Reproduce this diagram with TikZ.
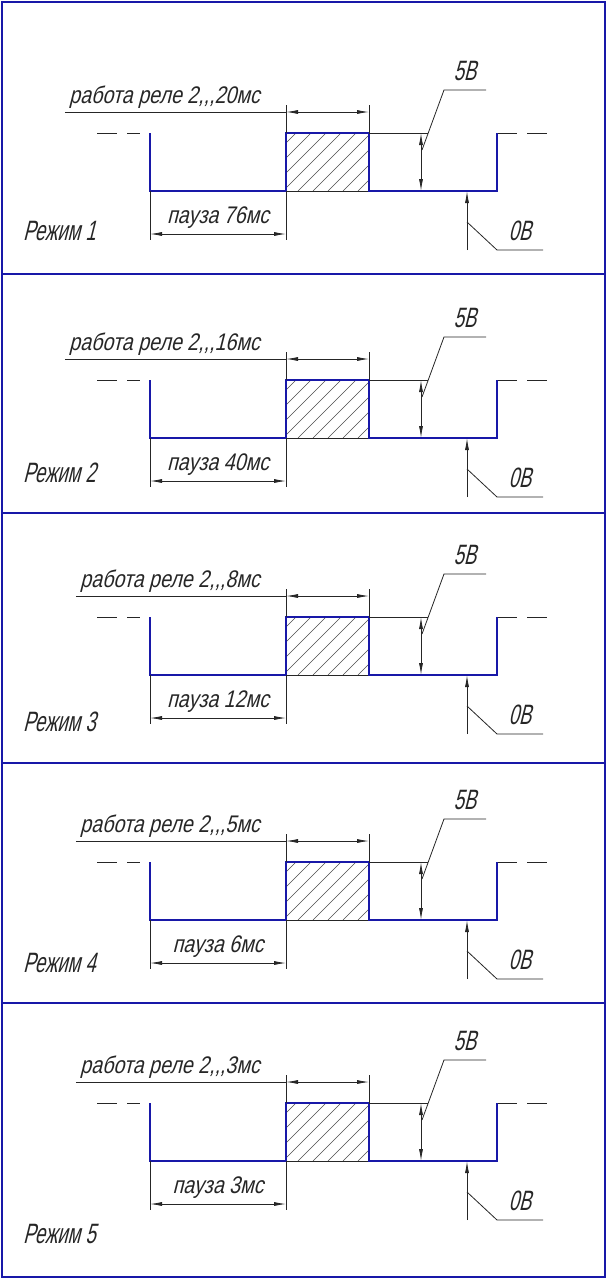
\documentclass[tikz,border=0pt]{standalone}
\usepackage{fontspec}
\usetikzlibrary{arrows.meta}
\newfontfamily\gostfont[FakeSlant=0.25,FakeStretch=0.82]{Liberation Sans}
\newfontfamily\gostnarrow[FakeSlant=0.25,FakeStretch=0.66]{Liberation Sans}
\definecolor{waveblue}{RGB}{24,24,168}

\begin{document}
\begin{tikzpicture}[x=1pt, y=-1pt,
    border/.style={waveblue, line width=2pt},
    wave/.style={waveblue, line width=2pt},
    thinline/.style={black!85, line width=0.8pt},
    hatch/.style={black!70, line width=0.5pt},
    dimline/.style={thinline, {Latex[length=12pt,width=4pt]}-{Latex[length=12pt,width=4pt]}},
    arrowline/.style={thinline, -{Latex[length=12pt,width=4pt]}},
    worklbl/.style={inner sep=0pt, black!85, font=\gostfont\fontsize{24}{26}\selectfont},
    modelbl/.style={inner sep=0pt, black!85, font=\gostnarrow\fontsize{28}{30}\selectfont}]
\useasboundingbox (0,0) rectangle (608,1280);
% draw frame
    \draw[border] (2,2) rectangle (605,1277);
    \foreach \y in {274,513,763,1003}
        \draw[border] (2,\y) -- (605,\y);
% draw panels
\foreach \i/\h/\w/\p/\m in {1/133/20/76/107, 2/380/16/40/102, 3/617/8/12/114, 4/862/5/6/110, 5/1103/3/3/140}{
    \pgfmathsetmacro\l{\h+58}
    % hatched pulse
    \begin{scope}
        \clip (286,\h) rectangle (369,\l);
        \foreach \k in {0,...,9}
            \draw[hatch] ({223+15*\k},\l) -- ++(60,-60);
    \end{scope}
    \draw[thinline] (286,\l) -- (369,\l);
    % signal
    \draw[thinline, dash pattern=on 20pt off 10pt] (97,\h) -- (140,\h);
    \draw[thinline, dash pattern=on 20pt off 10pt] (497,\h) -- (548,\h);
    \draw[wave] (150,\h) -- (150,\l) -- (286,\l) -- (286,\h) -- (369,\h)
        -- (369,\l) -- (497,\l) -- (497,\h);
    % work dimension
    \coordinate (lead\i) at (286,\h-21);
    \node[worklbl, anchor=base east] (work\i) at (260,\h-30) {работа реле 2,,,\w мс};
    \draw[thinline] (286,\h) -- (286,\h-28);
    \draw[thinline] (369,\h) -- (369,\h-28);
    \draw[dimline] (lead\i) -- (369,\h-21);
    \draw[thinline] ([xshift=-4pt]work\i.west |- lead\i) -- (lead\i);
    % pause dimension
    \draw[thinline] (150,\l) -- (150,\h+107);
    \draw[thinline] (286,\l) -- (286,\h+107);
    \draw[dimline] (150,\h+101) -- (286,\h+101);
    \node[worklbl, anchor=base] (pause\i) at (218,\h+90) {пауза \p мс};
    % 5V
    \draw[thinline] (369,\h) -- (428,\h);
    \draw[dimline] (421,\h) -- (421,\l);
    \draw[thinline] (422,\h+17) -- (444,\h-43) -- (486,\h-43);
    \node[modelbl, anchor=base] (hi\i) at (465,\h-53) {5В};
    % 0V
    \draw[arrowline] (467,\h+117) -- (467,\l);
    \draw[thinline] (467,\h+89) -- (497,\h+117) -- (543,\h+117);
    \node[modelbl, anchor=base] (lo\i) at (520,\h+107) {0В};
    % mode
    \node[modelbl, anchor=base west] (mode\i) at (23,\h+\m) {Режим \i};
}
\end{tikzpicture}
\end{document}
